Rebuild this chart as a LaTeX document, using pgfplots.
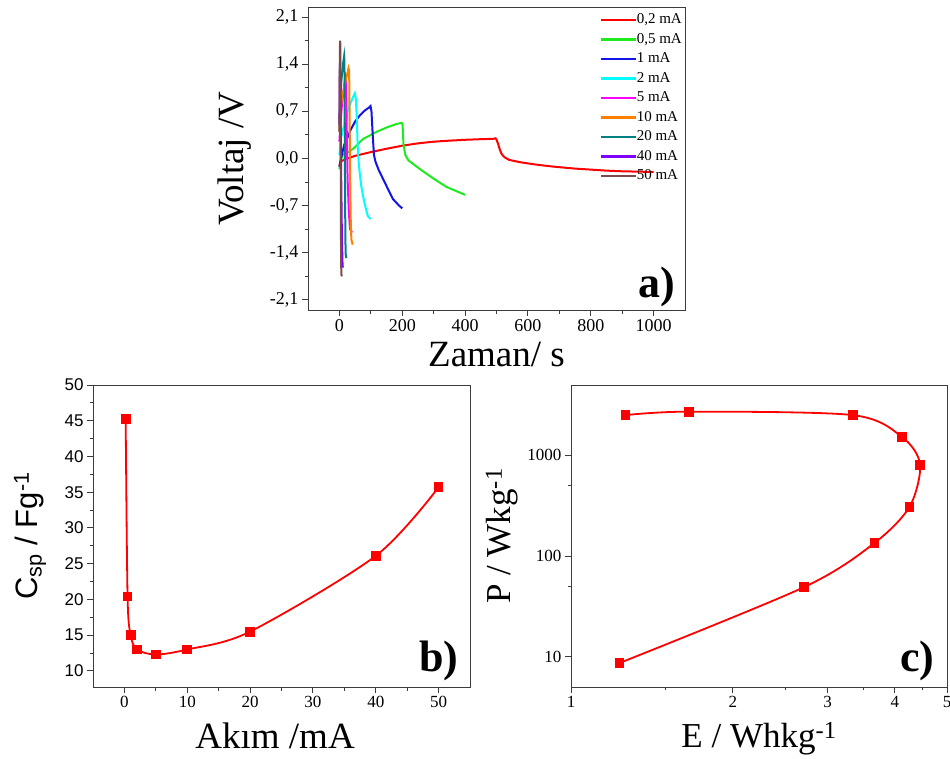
\documentclass[border=0pt]{standalone}
\usepackage{fontspec}
\setmainfont{Liberation Serif}
\newfontfamily\arial{Liberation Sans}
\usepackage{pgfplots}
\pgfplotsset{compat=1.18}

\definecolor{cRed}{RGB}{255,0,0}
\definecolor{cGreen}{RGB}{30,235,30}
\definecolor{cBlue}{RGB}{20,20,230}
\definecolor{cCyan}{RGB}{0,255,255}
\definecolor{cMag}{RGB}{255,0,255}
\definecolor{cOrange}{RGB}{255,128,0}
\definecolor{cTeal}{RGB}{0,128,128}
\definecolor{cViolet}{RGB}{128,0,255}
\definecolor{cBrown}{RGB}{123,74,74}
\definecolor{axgray}{RGB}{60,60,60}

\pgfplotsset{
  panel/.style={
    scale only axis, anchor=south west,
    tick align=outside, xtick pos=bottom, ytick pos=left,
    major tick length=6pt, minor tick length=3.5pt,
    axis line style={line width=1pt, axgray},
    every tick/.style={axgray, line width=1pt},
    every minor tick/.style={axgray, line width=1pt},
  },
  gcd/.style={line width=2pt, no marks},
}

\begin{document}
\begin{tikzpicture}
\path[use as bounding box] (0pt,0pt) rectangle (950pt,-758pt);

% a) charge-discharge curves
\begin{axis}[panel,
  at={(308pt,-310pt)}, width=377pt, height=303pt,
  xmin=-100, xmax=1100, ymin=-2.25, ymax=2.25,
  xtick={0,200,...,1000}, xticklabels={0,200,400,600,800,1000},
  ytick={-2.1,-1.4,-0.7,0,0.7,1.4,2.1},
  yticklabels={{-2,1},{-1,4},{-0,7},{0,0},{0,7},{1,4},{2,1}},
  minor x tick num=1, minor y tick num=1,
  ticklabel style={font=\fontsize{18}{20}\selectfont},
  xlabel={Zaman/ s},
  xlabel style={font=\fontsize{37}{40}\selectfont, at={(axis description cs:0.5,-0.185)}, anchor=base},
  ylabel={Voltaj /V},
  ylabel style={font=\fontsize{37}{40}\selectfont, at={(axis description cs:-0.194,0.5)}, anchor=center},
  legend cell align=left,
  legend image code/.code={\draw[#1, line width=2.2pt] (0pt,0pt) -- (35pt,0pt);},
  legend style={at={(rel axis cs:1,1)}, anchor=north east, xshift=-3pt, yshift=-6pt,
    draw=none, fill=none, inner sep=0pt, row sep=6pt,
    font=\fontsize{15}{17}\selectfont,
    nodes={inner sep=0pt, text height=10.5pt, text depth=3pt},
    /tikz/every even column/.style={column sep=5pt}},
]
\addplot[gcd, cRed] coordinates {
 (0,-0.12) (3,-0.05) (10,-0.03) (20,-0.01) (50,0.04) (100,0.095) (150,0.145)
 (200,0.19) (250,0.225) (300,0.25) (350,0.265) (400,0.278) (450,0.287)
 (490,0.293) (497,0.30) (500,0.28) (505,0.22) (510,0.14) (516,0.07)
 (525,0.02) (540,-0.02) (575,-0.055) (625,-0.09) (680,-0.12) (750,-0.15)
 (800,-0.165) (850,-0.18) (900,-0.19) (1000,-0.2)};
\addlegendentry{0,2 mA}
\addplot[gcd, cGreen] coordinates {
 (0,-0.16) (3,-0.05) (10,0.05) (20,0.08) (30,0.1) (45,0.15) (75,0.29)
 (100,0.35) (120,0.4) (150,0.46) (180,0.51) (198,0.53) (201,0.5) (204,0.2)
 (210,0.05) (220,-0.03) (240,-0.1) (260,-0.17) (300,-0.3) (340,-0.42)
 (370,-0.48) (400,-0.54)};
\addlegendentry{0,5 mA}
\addplot[gcd, cBlue] coordinates {
 (0,-0.12) (5,0.0) (15,0.2) (25,0.3) (35,0.42) (50,0.55) (65,0.64) (80,0.71)
 (95,0.76) (99,0.78) (102,0.7) (106,0.35) (110,0.05) (115,-0.05) (125,-0.17)
 (149,-0.4) (170,-0.6) (190,-0.7) (200,-0.74)};
\addlegendentry{1 mA}
\addplot[gcd, cCyan] coordinates {
 (0,0.05) (5,0.3) (15,0.5) (25,0.68) (35,0.82) (45,0.93) (49,0.97) (52,0.9)
 (55,0.64) (58,0.2) (62,-0.1) (69,-0.4) (80,-0.67) (90,-0.85) (99,-0.9)};
\addlegendentry{2 mA}
\addplot[gcd, cMag] coordinates {
 (0,0.25) (3,0.5) (8,0.8) (14,1.05) (19,1.2) (21,1.15) (23,0.5) (26,-0.3)
 (30,-0.8) (34,-1.05) (40,-1.1)};
\addlegendentry{5 mA}
\addplot[gcd, cOrange] coordinates {
 (0,0.4) (3,0.7) (8,0.9) (15,1.05) (22,1.2) (29,1.34) (31,1.3) (32,0.8)
 (34,-0.2) (36,-0.9) (38,-1.2) (42,-1.28)};
\addlegendentry{10 mA}
\addplot[gcd, cTeal] coordinates {
 (0,0.6) (3,0.95) (7,1.2) (12,1.42) (15,1.52) (16,1.45) (17,0.5) (18,-0.5)
 (19,-1.2) (20,-1.42) (22,-1.48)};
\addlegendentry{20 mA}
\addplot[gcd, cViolet] coordinates {
 (0,0.5) (1,1.2) (2,1.45) (3,1.2) (5,0) (8,-1.2) (10,-1.58) (11,-1.62)};
\addlegendentry{40 mA}
\addplot[gcd, cBrown] coordinates {
 (0,0.4) (1,1.3) (2,1.75) (3,1.7) (4,0.2) (5,-1.2) (6,-1.72) (8,-1.75)};
\addlegendentry{50 mA}
\node[anchor=base east, font=\bfseries\fontsize{44}{46}\selectfont] at (rel axis cs:0.982,0.04) {a)};
\end{axis}

% b) specific capacitance vs current
\begin{axis}[panel,
  at={(93pt,-687pt)}, width=377pt, height=302pt,
  xmin=-5, xmax=55, ymin=7.75, ymax=50,
  xtick={0,10,...,50}, ytick={10,15,...,50},
  minor x tick num=1, minor y tick num=1,
  /pgf/number format/assume math mode=true,
  xticklabel style={font=\fontsize{17}{19}\selectfont},
  yticklabel style={font=\arial\fontsize{17}{19}\selectfont},
  xlabel={Akım /mA},
  xlabel style={font=\fontsize{37}{40}\selectfont, at={(axis description cs:0.483,-0.202)}, anchor=base},
  ylabel={\arial C\textsubscript{sp} / Fg\textsuperscript{-1}},
  ylabel style={font=\fontsize{31}{34}\selectfont, at={(axis description cs:-0.167,0.5)}, anchor=center},
]
\addplot[cRed, line width=1.8pt, smooth, mark=square*, mark size=4pt] coordinates {
 (0.2,45.2) (0.5,20.4) (1,15) (2,13) (5,12.3) (10,13) (20,15.5) (40,26.1) (50,35.7)};
\node[anchor=base east, font=\bfseries\fontsize{44}{46}\selectfont] at (rel axis cs:0.979,0.05) {b)};
\end{axis}

% c) Ragone plot
\begin{axis}[panel, xmode=log, ymode=log,
  at={(571pt,-687pt)}, width=376pt, height=302pt,
  xmin=1, xmax=5, ymin=5, ymax=5000,
  xtick={1,2,3,4,5}, xticklabels={1,2,3,4,5},
  minor xtick={1.5,2.5,3.5,4.5},
  ytick={10,100,1000}, yticklabels={10,100,1000},
  minor ytick={50,500},
  ticklabel style={font=\fontsize{17}{19}\selectfont},
  xlabel={E / Whkg\textsuperscript{-1}},
  xlabel style={font=\fontsize{35}{38}\selectfont, at={(axis description cs:0.5,-0.199)}, anchor=base},
  ylabel={P / Wkg\textsuperscript{-1}},
  ylabel style={font=\fontsize{35}{38}\selectfont, at={(axis description cs:-0.1835,0.5)}, anchor=center},
]
\addplot[cRed, line width=1.8pt, smooth, mark=square*, mark size=4pt] coordinates {
 (1.263,2512) (1.656,2718) (3.34,2512) (4.125,1520) (4.456,809)
 (4.26,309) (3.665,134.6) (2.714,49.2) (1.231,8.66)};
\node[anchor=base east, font=\bfseries\fontsize{44}{46}\selectfont] at (rel axis cs:0.976,0.05) {c)};
\end{axis}
\end{tikzpicture}
\end{document}
